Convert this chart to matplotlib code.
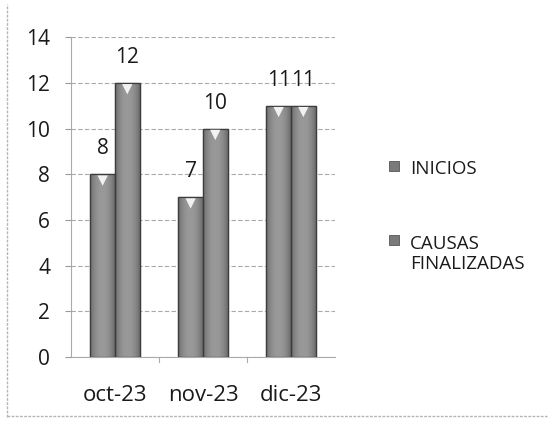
import numpy as np
import matplotlib
matplotlib.use("Agg")
import matplotlib.pyplot as plt
from matplotlib.patches import Rectangle

meses = ["oct-23", "nov-23", "dic-23"]
inicios = [8, 7, 11]
causas_finalizadas = [12, 10, 11]
series_nombres = ["INICIOS", "CAUSAS\nFINALIZADAS"]

plt.rcParams['font.family'] = ['Open Sans', 'DejaVu Sans']

fig = plt.figure(figsize=(5.5, 4.22), dpi=100)
# borde del grafico (solo izquierda y abajo se ven en el escaneo)
fig.add_artist(plt.Line2D([0.012, 0.012], [0.012, 0.99], transform=fig.transFigure,
                          color='#b5b5b5', lw=1, linestyle=(0, (2, 1))))
fig.add_artist(plt.Line2D([0.012, 0.995], [0.014, 0.014], transform=fig.transFigure,
                          color='#b5b5b5', lw=1, linestyle=(0, (2, 1))))

ax = fig.add_axes([0.129, 0.154, 0.48, 0.758])

x = np.arange(len(meses))
w = 0.28

# sombreado tipo cilindro, gris apagado
t = np.linspace(-1, 1, 64)
perfil = 0.42 + 0.18 * (1 - np.abs(t) ** 2.2)
grad = np.vstack([perfil, perfil])


def draw(series, offset):
    bars = ax.bar(x + offset, series, w, color='#7d7d7d', edgecolor='#3c3c3c', linewidth=0.9, zorder=3)
    for b in bars:
        im = ax.imshow(grad, cmap='gray', vmin=0, vmax=1, aspect='auto', interpolation='bilinear',
                       extent=[b.get_x(), b.get_x() + b.get_width(), 0, b.get_height()], zorder=3.5)
        im.set_clip_path(b)
        ax.add_patch(Rectangle((b.get_x(), 0), b.get_width(), b.get_height(), fill=False,
                               edgecolor='#3c3c3c', linewidth=0.9, zorder=3.6))
    ax.scatter(x + offset, np.array(series) - 0.28, marker='v', s=55, color='#f2f2f2',
               edgecolors='none', zorder=4)
    for xi, v in zip(x + offset, series):
        ax.text(xi, v + 0.65, str(v), ha='center', va='bottom', fontsize=15, color='#1a1a1a')
    return bars


draw(inicios, -w / 2)
draw(causas_finalizadas, w / 2)

ax.set_xlim(-0.5, 2.5)
ax.set_ylim(0, 14)
ax.set_yticks(range(0, 15, 2))
ax.set_xticks(x)
ax.set_xticklabels(meses, fontsize=16, color='#1a1a1a')
ax.tick_params(axis='y', labelsize=15, labelcolor='#1a1a1a', length=4, color='#999999', pad=11)
ax.tick_params(axis='x', length=0, pad=20)
ax.yaxis.grid(True, linestyle=(0, (4, 2)), color='#aaaaaa', linewidth=0.8, zorder=0)
ax.set_axisbelow(True)
for s in ['top', 'right']:
    ax.spines[s].set_visible(False)
ax.spines['left'].set_color('#aaaaaa')
ax.spines['bottom'].set_color('#aaaaaa')
for xb in [0.5, 1.5]:
    ax.plot([xb, xb], [0, -0.2], color='#aaaaaa', lw=0.8, clip_on=False)

# leyenda
for yy, nombre in zip([0.607, 0.431], series_nombres):
    fig.patches.append(Rectangle((0.708, yy - 0.012), 0.017, 0.023, transform=fig.transFigure,
                                 facecolor='#7a7a7a', edgecolor='#555555', linewidth=0.6))
    fig.text(0.745, yy + 0.013, nombre, ha='left', va='top', fontsize=13.5,
             color='#1a1a1a', linespacing=1.15)

fig.savefig("out.png", dpi=100)
